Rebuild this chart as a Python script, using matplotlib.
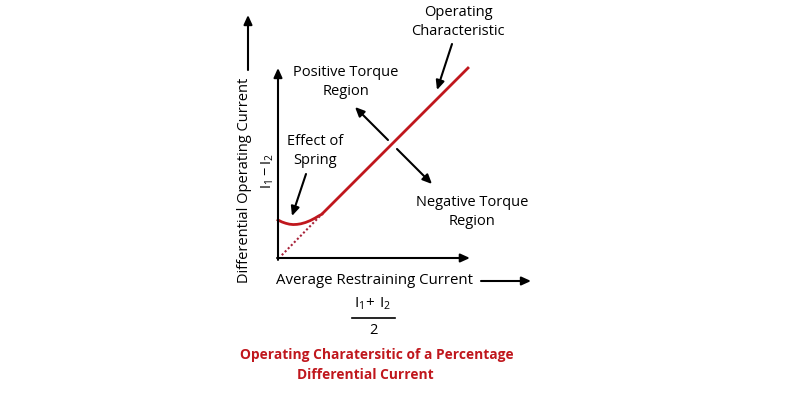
import matplotlib
matplotlib.use("Agg")
import matplotlib.pyplot as plt

plt.rcParams["font.family"] = ["Open Sans", "DejaVu Sans"]
plt.rcParams["mathtext.fontset"] = "custom"
plt.rcParams["mathtext.rm"] = "Open Sans"
plt.rcParams["mathtext.it"] = "Open Sans"

# characteristic values, in axis units (0..10 on both axes)
restraining = [2.3, 10.05]
operating = [2.3, 10.05]

spring_x = [0.0, 0.2, 0.4, 0.6, 0.8, 1.0, 1.2, 1.45, 1.7, 1.95, 2.15, 2.3]
spring_y = [2.0, 1.9, 1.83, 1.78, 1.76, 1.77, 1.8, 1.87, 1.97, 2.1, 2.22, 2.3]

ideal_x = [0.2, 2.3]
ideal_y = [0.15, 2.3]

RED = "#c0171d"
DOT = "#a8233a"

W, H = 785, 395
fig = plt.figure(figsize=(W / 100, H / 100), dpi=100)

# overlay in pixel coordinates for labels and pointer arrows
bg = fig.add_axes([0, 0, 1, 1])
bg.set_xlim(0, W)
bg.set_ylim(H, 0)
bg.axis("off")

# plot region: origin at (278, 258), 190 px per 10 units
ax = fig.add_axes([278 / W, (H - 258) / H, 190 / W, 190 / H])
ax.set_xlim(0, 10)
ax.set_ylim(0, 10)
ax.axis("off")

arr = dict(arrowstyle="-|>,head_length=0.55,head_width=0.25", color="black", lw=1.5,
           shrinkA=0, shrinkB=0)
ax.annotate("", xy=(0, 10), xytext=(0, -0.1), arrowprops=arr, annotation_clip=False)
ax.annotate("", xy=(10.1, 0), xytext=(-0.05, 0), arrowprops=arr, annotation_clip=False)

ax.plot(restraining, operating, color=RED, lw=2.0, clip_on=False, solid_capstyle="butt")
ax.plot(spring_x, spring_y, color=RED, lw=2.0, clip_on=False)
ax.plot(ideal_x, ideal_y, color=DOT, lw=1.5, ls=(0, (1, 1.1)), clip_on=False)

fs = 10.5
bg.text(458, 22, "Operating\nCharacteristic", ha="center", va="center", fontsize=fs,
        linespacing=1.35)
bg.text(346, 82, "Positive Torque\nRegion", ha="center", va="center", fontsize=fs,
        linespacing=1.35)
bg.text(315, 151, "Effect of\nSpring", ha="center", va="center", fontsize=fs,
        linespacing=1.35)
bg.text(472, 212, "Negative Torque\nRegion", ha="center", va="center", fontsize=fs,
        linespacing=1.35)

bg.annotate("", xy=(437, 90), xytext=(452, 44), arrowprops=arr)
bg.annotate("", xy=(292, 216), xytext=(306, 174), arrowprops=arr)
bg.annotate("", xy=(355, 107), xytext=(388, 140), arrowprops=arr)
bg.annotate("", xy=(432, 184), xytext=(397, 149), arrowprops=arr)

# axis titles
bg.text(245, 180, "Differential Operating Current", rotation=90, ha="center",
        va="center", fontsize=fs)
bg.annotate("", xy=(248, 15), xytext=(248, 70), arrowprops=arr)
bg.text(268, 171, r"$\mathrm{I_1 - I_2}$", rotation=90, ha="center", va="center",
        fontsize=fs)

bg.text(374, 281, "Average Restraining Current", ha="center", va="center", fontsize=10.8)
bg.annotate("", xy=(531, 281), xytext=(481, 281), arrowprops=arr)
bg.text(373, 304, r"$\mathrm{I_1\!+\,I_2}$", ha="center", va="center", fontsize=11)
bg.plot([352, 395], [318, 318], color="black", lw=1.2)
bg.text(373, 331, "2", ha="center", va="center", fontsize=fs)

bg.text(377, 355, "Operating Charatersitic of a Percentage", ha="center", va="center",
        fontsize=9.9, fontweight="bold", color=RED)
bg.text(365, 375, "Differential Current", ha="center", va="center", fontsize=9.9,
        fontweight="bold", color=RED)

fig.savefig("out.png", dpi=100)
